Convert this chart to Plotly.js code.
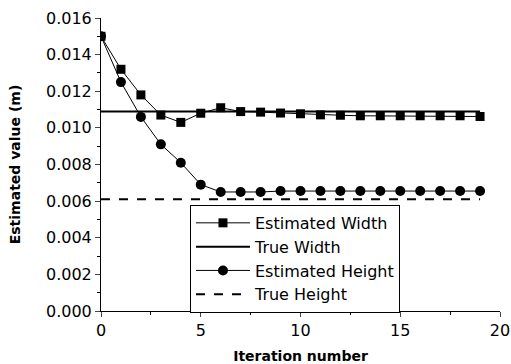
<!DOCTYPE html>
<html>
<head>
<meta charset="utf-8">
<script src="https://cdn.plot.ly/plotly-3.0.1.min.js"></script>
<style>html,body{margin:0;padding:0;background:#fff;}#chart{width:511px;height:364px;}</style>
</head>
<body>
<div id="chart"></div>
<script>
const iterations = [0,1,2,3,4,5,6,7,8,9,10,11,12,13,14,15,16,17,18,19];
const estimatedWidth = [0.0150,0.0132,0.0118,0.0107,0.0103,0.0108,0.0111,0.01089,0.01086,0.01081,0.01077,0.01071,0.01069,0.01066,0.01066,0.01066,0.01066,0.01066,0.01066,0.01062];
const estimatedHeight = [0.0150,0.0125,0.0106,0.0091,0.0081,0.0069,0.0065,0.0065,0.0065,0.00655,0.00655,0.00655,0.00655,0.00655,0.00655,0.00655,0.00655,0.00655,0.00655,0.00655];
const trueWidthX = [0,19];
const trueWidth = [0.0109,0.0109];
const trueHeightX = [0,19];
const trueHeight = [0.0061,0.0061];

const font = 'DejaVu Sans, Liberation Sans, Arial, sans-serif';
const traces = [
  {x: iterations, y: estimatedWidth, name: 'Estimated Width', mode: 'lines+markers',
   line: {color:'#000', width:1}, marker: {symbol:'square', size:9, color:'#000'}},
  {x: trueWidthX, y: trueWidth, name: 'True Width', mode: 'lines',
   line: {color:'#000', width:2}},
  {x: iterations, y: estimatedHeight, name: 'Estimated Height', mode: 'lines+markers',
   line: {color:'#000', width:1}, marker: {symbol:'circle', size:10, color:'#000'}},
  {x: trueHeightX, y: trueHeight, name: 'True Height', mode: 'lines',
   line: {color:'#000', width:2, dash:'dash'}}
];
const layout = {
  width: 511, height: 364,
  margin: {l:101, r:11, t:18, b:53},
  paper_bgcolor:'#fff', plot_bgcolor:'#fff',
  font: {family: font, size: 16, color:'#000'},
  showlegend: true,
  legend: {x:0.223, y:0.362, xanchor:'left', yanchor:'top', bgcolor:'#fff',
           bordercolor:'#000', borderwidth:1, font:{size:16, family:font},
           itemwidth:54, tracegroupgap:0},
  xaxis: {range:[0,20], dtick:5, tick0:0, ticks:'outside', ticklen:5, tickwidth:1,
          showline:true, linecolor:'#000', linewidth:1, showgrid:false, zeroline:false,
          minor:{dtick:2.5, ticks:'outside', ticklen:3, tickcolor:'#000'},
          title:{text:'<b>Iteration number</b>', font:{size:14, family:font}, standoff:11}},
  yaxis: {range:[0,0.016], dtick:0.002, tick0:0, tickformat:'.3f', ticks:'outside', ticklen:5, tickwidth:1,
          showline:true, linecolor:'#000', linewidth:1, showgrid:false, zeroline:false,
          minor:{dtick:0.001, ticks:'outside', ticklen:3, tickcolor:'#000'},
          title:{text:'<b>Estimated value (m)</b>', font:{size:14, family:font}, standoff:22}}
};
Plotly.newPlot('chart', traces, layout, {displayModeBar:false, staticPlot:true});
</script>
</body>
</html>
